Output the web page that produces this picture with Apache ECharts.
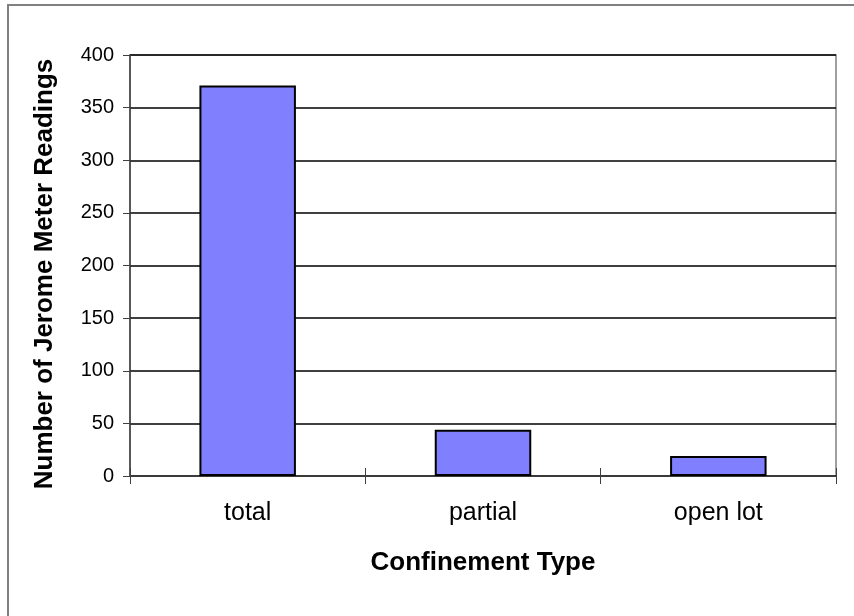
<!DOCTYPE html>
<html>
<head>
<meta charset="utf-8">
<script src="https://cdn.jsdelivr.net/npm/echarts@6/dist/echarts.min.js"></script>
<style>html,body{margin:0;padding:0;background:#fff}#c{width:854px;height:616px}</style>
</head>
<body>
<div id="c"></div>
<script>
const categories = ['total', 'partial', 'open lot'];
const readings = [371, 44, 19];
const yTicks = [0, 50, 100, 150, 200, 250, 300, 350, 400];
const xTitle = 'Confinement Type';
const yTitle = 'Number of Jerome Meter Readings';

const chart = echarts.init(document.getElementById('c'), null, {renderer: 'canvas'});
const font = 'Liberation Sans, Arial, sans-serif';
chart.setOption({
  animation: false,
  backgroundColor: '#fff',
  graphic: [{
    type: 'rect', silent: true, z: 0,
    shape: {x: 8, y: 5, width: 900, height: 700},
    style: {fill: 'none', stroke: '#808080', lineWidth: 2}
  }],
  grid: {left: 130, right: 18, top: 55, bottom: 140, show: true, borderColor: '#808080', borderWidth: 1.5},
  xAxis: [{
    type: 'category', data: categories, position: 'bottom',
    name: xTitle, nameLocation: 'middle', nameGap: 74,
    nameTextStyle: {fontFamily: font, fontSize: 26, fontWeight: 'bold', color: '#000'},
    axisLine: {show: true, lineStyle: {color: '#404040', width: 1.5}},
    axisTick: {show: true, length: 8, lineStyle: {color: '#404040', width: 1}},
    axisLabel: {fontFamily: font, fontSize: 25, color: '#000', margin: 25},
    splitLine: {show: false}
  }, {
    type: 'category', data: categories, position: 'bottom',
    axisLine: {show: false},
    axisTick: {show: true, inside: true, length: 8, lineStyle: {color: '#404040', width: 1}},
    axisLabel: {show: false},
    splitLine: {show: false}
  }],
  yAxis: {
    type: 'value', min: yTicks[0], max: yTicks[yTicks.length - 1], interval: yTicks[1] - yTicks[0],
    name: yTitle, nameLocation: 'middle', nameGap: 72, nameRotate: 90,
    nameTextStyle: {fontFamily: font, fontSize: 26, fontWeight: 'bold', color: '#000', padding: [0, 17, 0, 0]},
    axisLine: {show: true, lineStyle: {color: '#404040', width: 1.5}},
    axisTick: {show: true, length: 7, lineStyle: {color: '#404040', width: 1}},
    axisLabel: {fontFamily: font, fontSize: 20, color: '#000', margin: 16},
    splitLine: {show: true, lineStyle: {color: '#000', width: 1.5}}
  },
  series: [{
    type: 'bar', data: readings, xAxisIndex: 0,
    barCategoryGap: '59%',
    itemStyle: {color: '#8080FF', borderColor: '#000', borderWidth: 2}
  }]
});
</script>
</body>
</html>
